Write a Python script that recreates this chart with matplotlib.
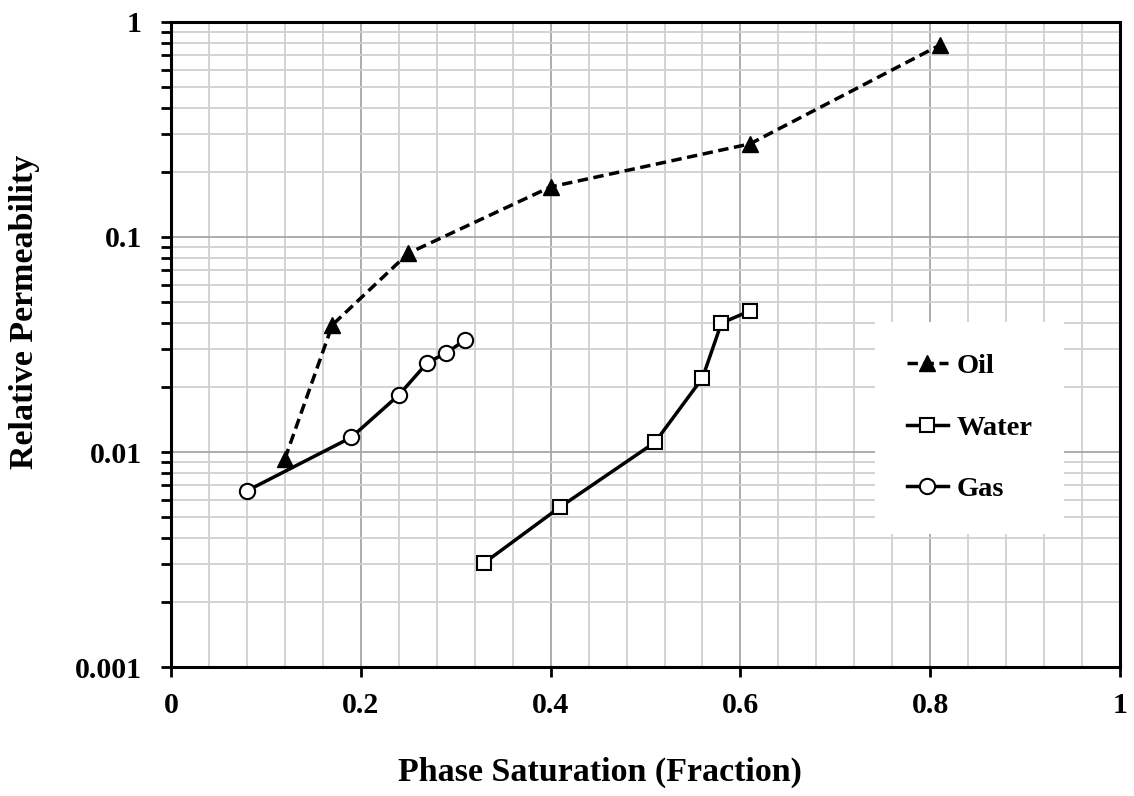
import matplotlib
matplotlib.use("Agg")
import matplotlib.pyplot as plt
from matplotlib.ticker import LogLocator, MultipleLocator, FixedLocator, NullFormatter

oil_x = [0.12, 0.17, 0.25, 0.40, 0.61, 0.81]
oil_y = [0.0093, 0.039, 0.084, 0.171, 0.271, 0.78]
water_x = [0.33, 0.41, 0.51, 0.56, 0.58, 0.61]
water_y = [0.00305, 0.00555, 0.0111, 0.0221, 0.0398, 0.0453]
gas_x = [0.08, 0.19, 0.24, 0.27, 0.29, 0.31]
gas_y = [0.0066, 0.0117, 0.0184, 0.026, 0.0289, 0.0332]
x_ticks = [0, 0.2, 0.4, 0.6, 0.8, 1]
x_ticklabels = ["0", "0.2", "0.4", "0.6", "0.8", "1"]
y_ticks = [0.001, 0.01, 0.1, 1]
y_ticklabels = ["0.001", "0.01", "0.1", "1"]

plt.rcParams['font.family'] = ['Liberation Serif', 'DejaVu Serif']
plt.rcParams['font.weight'] = 'bold'

fig = plt.figure(figsize=(11.34, 7.96), dpi=100)
ax = fig.add_axes([0.1508, 0.162, 0.9877 - 0.1508, 0.9724 - 0.162])

ax.set_yscale('log')
ax.set_xlim(0, 1)
ax.set_ylim(0.001, 1)

ax.plot(oil_x, oil_y, color='black', lw=2.5, ls=(0, (3, 1.6)), marker='^', ms=11,
        mfc='black', mec='black', label='Oil', zorder=3)
ax.plot(water_x, water_y, color='black', lw=2.5, ls='-', marker='s', ms=10,
        mfc='white', mec='black', mew=1.5, label='Water', zorder=3)
ax.plot(gas_x, gas_y, color='black', lw=2.5, ls='-', marker='o', ms=11,
        mfc='white', mec='black', mew=1.5, label='Gas', zorder=3)

ax.xaxis.set_major_locator(FixedLocator(x_ticks))
ax.set_xticklabels(x_ticklabels)
ax.xaxis.set_minor_locator(MultipleLocator(0.04))
ax.yaxis.set_major_locator(FixedLocator(y_ticks))
ax.set_yticklabels(y_ticklabels)
ax.yaxis.set_minor_locator(LogLocator(base=10, subs=range(2, 10)))
ax.yaxis.set_minor_formatter(NullFormatter())

ax.grid(which='major', color='#a6a6a6', lw=1.3)
ax.grid(which='minor', color='#d0d0d0', lw=1.3)
ax.set_axisbelow(True)

ax.tick_params(axis='both', which='major', direction='out', length=7, width=2,
               labelsize=21.5)
ax.tick_params(axis='x', which='major', pad=11)
ax.tick_params(axis='y', which='major', pad=14)
ax.tick_params(axis='y', which='minor', direction='out', length=7, width=2)
ax.tick_params(axis='x', which='minor', length=0)
for lab in ax.get_xticklabels() + ax.get_yticklabels():
    lab.set_fontweight('bold')

for s in ax.spines.values():
    s.set_linewidth(2.2)
    s.set_color('black')

fig.text(600 / 1134, 1 - 772 / 796,
         'Phase Saturation (Fraction)', fontsize=24.5, fontweight='bold',
         ha='center', va='center')
fig.text(25 / 1134, 1 - 312 / 796, 'Relative Permeability', fontsize=24.5,
         fontweight='bold', rotation=90, ha='center', va='center')

leg = ax.legend(loc='upper left', bbox_to_anchor=(0.742, 0.535), frameon=True,
                fancybox=False, edgecolor='white', framealpha=1,
                prop={'weight': 'bold', 'size': 20.5}, handlelength=1.45,
                handletextpad=0.3, labelspacing=1.25, borderpad=1.1,
                borderaxespad=0)
leg.get_frame().set_linewidth(0)

fig.savefig('out.png', dpi=100)
